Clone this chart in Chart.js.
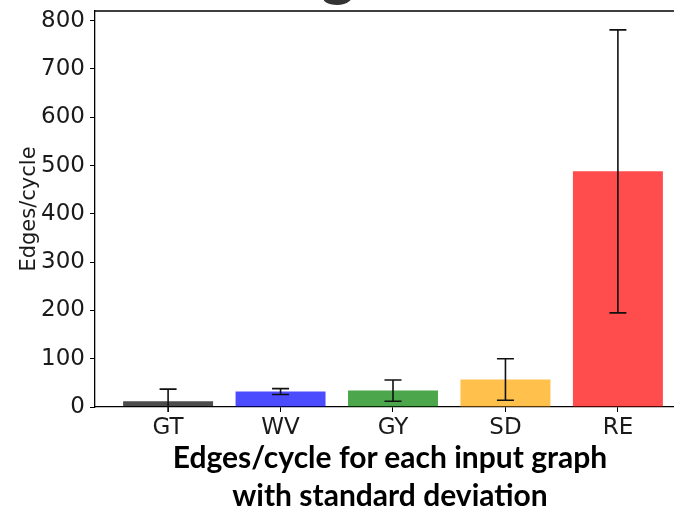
<!DOCTYPE html>
<html>
<head>
<meta charset="utf-8">
<script src="https://cdn.jsdelivr.net/npm/chart.js@4.4.1/dist/chart.umd.min.js"></script>
<style>
    html, body { margin: 0; padding: 0; background: #fff; overflow: hidden; }
    #wrap { position: relative; width: 674px; height: 508px; overflow: hidden; }
    #myChart { position: absolute; left: 0; top: 0; }
    .caption {
        position: absolute;
        left: 390px;
        transform: translateX(-50%);
        font-family: Lato, "Open Sans", sans-serif;
        font-weight: bold;
        font-size: 30px;
        color: #000;
        white-space: nowrap;
        line-height: 30px;
    }
</style>
</head>
<body>
<div id="wrap">
    <canvas id="myChart" width="700" height="508"></canvas>
    <div class="caption" style="top:441px">Edges/cycle for each input graph</div>
    <div class="caption" style="top:479px">with standard deviation</div>
</div>
<script>
const categories = ["GT", "WV", "GY", "SD", "RE"];
const means = [12, 32, 34, 57, 488];
const stdDevs = [25, 6, 22, 43, 293];
const yTicks = [0, 100, 200, 300, 400, 500, 600, 700, 800];

const barColors = [
    "rgba(0,0,0,0.7)",
    "rgba(0,0,255,0.7)",
    "rgba(0,128,0,0.7)",
    "rgba(255,165,0,0.7)",
    "rgba(255,0,0,0.7)"
];

const tickFont = {family: "DejaVu Sans", size: 23};

// error bars, drawn through the chart scales
const errorBars = {
    id: "errorBars",
    afterDatasetsDraw(chart) {
        const {ctx, chartArea, scales: {x, y}} = chart;
        ctx.save();
        ctx.beginPath();
        ctx.rect(chartArea.left, chartArea.top, chartArea.right - chartArea.left, chartArea.bottom - chartArea.top + 5);
        ctx.clip();
        ctx.strokeStyle = "#111";
        ctx.lineWidth = 1.6;
        for (let i = 0; i < means.length; i++) {
            const px = x.getPixelForValue(i);
            const top = y.getPixelForValue(means[i] + stdDevs[i]);
            const bot = y.getPixelForValue(means[i] - stdDevs[i]);
            ctx.beginPath();
            ctx.moveTo(px, top);
            ctx.lineTo(px, bot);
            ctx.moveTo(px - 8.5, top);
            ctx.lineTo(px + 8.5, top);
            ctx.moveTo(px - 8.5, bot);
            ctx.lineTo(px + 8.5, bot);
            ctx.stroke();
        }
        ctx.restore();
    }
};

// top spine (right spine falls outside the picture) + cut off slide title
const frame = {
    id: "frame",
    afterDraw(chart) {
        const {ctx, chartArea} = chart;
        ctx.save();
        ctx.strokeStyle = "#000";
        ctx.lineWidth = 1.3;
        ctx.beginPath();
        ctx.moveTo(chartArea.left, chartArea.top);
        ctx.lineTo(chartArea.right, chartArea.top);
        ctx.stroke();
        ctx.fillStyle = "#333";
        ctx.font = "bold 64px Lato";
        ctx.textBaseline = "alphabetic";
        ctx.fillText("g", 321, -6);
        ctx.restore();
    }
};

const ctx = document.getElementById("myChart");

let myChart = new Chart(ctx, {
    type: "bar",
    data: {
        datasets: [{
            data: means.map((m, i) => ({x: i, y: m})),
            backgroundColor: barColors,
            borderWidth: 0,
            barPercentage: 0.8,
            categoryPercentage: 1
        }]
    },
    options: {
        responsive: false,
        animation: false,
        layout: {padding: {top: 11, right: 9, left: 0, bottom: 0}},
        plugins: {
            legend: {display: false},
            tooltip: {enabled: false}
        },
        scales: {
            x: {
                type: "linear",
                min: -0.65,
                max: 4.65,
                offset: false,
                afterBuildTicks: s => { s.ticks = categories.map((c, i) => ({value: i})); },
                afterFit: s => { s.height = 101; s.paddingLeft = 0; s.paddingRight = 0; },
                ticks: {
                    callback: v => categories[v],
                    font: tickFont,
                    color: "#1a1a1a",
                    padding: 2,
                    maxRotation: 0
                },
                grid: {
                    display: true,
                    offset: false,
                    drawOnChartArea: false,
                    drawTicks: true,
                    tickLength: 5,
                    color: "#000"
                },
                border: {display: true, color: "#000", width: 1.3}
            },
            y: {
                min: 0,
                max: 820,
                afterBuildTicks: s => { s.ticks = yTicks.map(v => ({value: v})); },
                afterFit: s => { s.width = 95; s.paddingTop = 0; s.paddingBottom = 0; },
                ticks: {
                    font: tickFont,
                    color: "#1a1a1a",
                    padding: 5
                },
                grid: {
                    display: true,
                    drawOnChartArea: false,
                    drawTicks: true,
                    tickLength: 5,
                    color: "#000"
                },
                border: {display: true, color: "#000", width: 1.3},
                title: {
                    display: true,
                    text: "Edges/cycle",
                    font: {family: "DejaVu Sans", size: 21},
                    color: "#1a1a1a",
                    padding: {top: 17, bottom: 0}
                }
            }
        }
    },
    plugins: [errorBars, frame]
});
</script>
</body>
</html>
